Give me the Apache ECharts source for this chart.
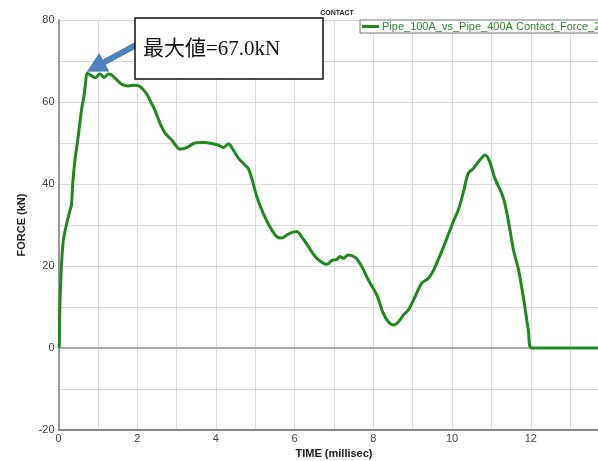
<!DOCTYPE html>
<html><head><meta charset="utf-8">
<script src="https://cdn.jsdelivr.net/npm/echarts@6/dist/echarts.min.js"></script>
<style>html,body{margin:0;padding:0;background:#fff}#c{width:598px;height:461px}</style>
</head><body><div id="c"></div>
<script>
const time = [0,0.02,0.03,0.04,0.06,0.08,0.12,0.2,0.29,0.33,0.36,0.42,0.48,0.55,0.6,0.64,0.68,0.73,0.84,0.93,1.05,1.16,1.27,1.35,1.48,1.61,1.77,1.94,2.07,2.24,2.33,2.45,2.58,2.71,2.88,3.09,3.26,3.47,3.68,3.89,4.06,4.19,4.32,4.44,4.57,4.74,4.82,4.91,5.04,5.2,5.37,5.55,5.67,5.84,6.05,6.18,6.35,6.56,6.82,6.94,7.07,7.15,7.24,7.36,7.54,7.71,7.83,7.92,8.09,8.25,8.38,8.51,8.64,8.76,8.89,9.06,9.23,9.4,9.53,9.7,9.87,10.03,10.16,10.29,10.41,10.54,10.71,10.84,10.96,11.07,11.3,11.43,11.56,11.69,11.81,11.94,12.02,14];
const force = [0,0.5,8,12,17,21,26,30,33.5,35,40,46,50,55.5,59,61,64,67.0,66.4,65.9,66.8,66.0,66.8,66.6,65.4,64.3,63.9,64.1,63.8,62.0,60.3,58.0,54.8,52.4,50.7,48.5,48.9,50.0,50.1,49.9,49.5,48.9,49.8,48.3,46.3,44.6,43.8,41.4,36.9,32.9,29.6,27.1,26.8,27.8,28.4,27.1,24.7,21.9,20.4,21.3,21.6,22.3,21.9,22.7,22.1,19.8,17.4,15.8,12.9,8.5,6.4,5.6,6.4,8.0,9.3,12.5,15.8,17.0,19.0,22.7,26.8,30.8,33.7,38.1,42.6,43.8,45.9,47.1,45.4,41.8,36.7,31,23.9,19,12.5,4.2,0,0];
const xTickLabels = [0,2,4,6,8,10,12,14];
const yTickLabels = [-20,0,20,40,60,80];
const seriesName = 'Pipe_100A_vs_Pipe_400A Contact_Force_2';

const chart = echarts.init(document.getElementById('c'));
const data = time.map((t,i)=>[t,force[i]]);
let maxI = 0; force.forEach((v,i)=>{ if (v>force[maxI]) maxI=i; });
const font = '"Liberation Sans", Arial, sans-serif';
chart.setOption({
  animation:false,
  backgroundColor:'#fff',
  title:{text:'CONTACT', left:332, textAlign:'center', top:5,
    textStyle:{fontSize:7, fontWeight:'bold', color:'#222', fontFamily:font}},
  legend:{left:360, top:20, orient:'horizontal', backgroundColor:'#fff',
    borderColor:'#777', borderWidth:1, borderRadius:0, padding:[1,3,1,2],
    itemWidth:17, itemHeight:3, itemGap:4, icon:'rect',
    textStyle:{color:'#2a8a2a', fontSize:11, fontFamily:font, padding:[0,0,0,-2]},
    data:[seriesName]},
  grid:{left:58.5, top:20, height:410, width:551, containLabel:false, outerBoundsMode:'none'},
  xAxis:{type:'value', min:0, max:14, interval:1,
    name:'TIME (millisec)', nameLocation:'middle', nameGap:14,
    nameTextStyle:{fontSize:11, fontWeight:'bold', color:'#222', fontFamily:font},
    axisLine:{show:true, onZero:false, lineStyle:{color:'#888', width:2}},
    axisTick:{show:false},
    axisLabel:{margin:3, fontSize:11, color:'#444', fontFamily:font,
      formatter:v=> xTickLabels.includes(v) ? String(v) : ''},
    splitLine:{show:true, lineStyle:{color:'#dadada', width:1}}},
  yAxis:{type:'value', min:-20, max:80, interval:10,
    name:'FORCE (kN)', nameLocation:'middle', nameGap:19, nameRotate:90,
    nameTextStyle:{fontSize:11, fontWeight:'bold', color:'#222', fontFamily:font},
    axisLine:{show:true, onZero:false, lineStyle:{color:'#999', width:2}},
    axisTick:{show:false},
    axisLabel:{margin:4, fontSize:11, color:'#444', fontFamily:font,
      formatter:v=> yTickLabels.includes(v) ? String(v) : ''},
    splitLine:{show:true, lineStyle:{color:'#dadada', width:1}}},
  series:[{name:seriesName, type:'line', data:data, showSymbol:false, symbol:'none',
    smooth:0.3, lineStyle:{color:'#1e8a1e', width:3}, itemStyle:{color:'#1e8a1e'},
    z:3,
    markLine:{silent:true, symbol:'none', label:{show:false},
      lineStyle:{color:'#aaa', width:2, type:'solid'}, data:[{yAxis:0}], z:1}
  }]
});

const tip = chart.convertToPixel({gridIndex:0}, [time[maxI], force[maxI]]);
const T = [tip[0]-0.5, tip[1]-1.5];
const S = [136, 45];
const dx = T[0]-S[0], dy = T[1]-S[1], len = Math.hypot(dx,dy);
const ux = dx/len, uy = dy/len, nx = -uy, ny = ux;
const hl = 20, hw = 10.5;
const B = [T[0]-ux*hl, T[1]-uy*hl];
chart.setOption({graphic:[
  {type:'line', shape:{x1:S[0], y1:S[1], x2:B[0]+ux*2, y2:B[1]+uy*2},
    style:{stroke:'#4f81bd', lineWidth:6}, z:10},
  {type:'polygon', shape:{points:[T,[B[0]+nx*hw,B[1]+ny*hw],[B[0]-nx*hw,B[1]-ny*hw]]},
    style:{fill:'#4f81bd'}, z:10},
  {type:'rect', shape:{x:135, y:18, width:188, height:61},
    style:{fill:'#fff', stroke:'#111', lineWidth:1.5}, z:11},
  {type:'text', x:143, y:49, z:12,
    style:{text:'最大値=' + force[maxI].toFixed(1) + 'kN', fill:'#111',
      font:'21px "Liberation Serif", "DejaVu Serif", "Noto Sans CJK JP", serif',
      verticalAlign:'middle'}}
]});
</script></body></html>
